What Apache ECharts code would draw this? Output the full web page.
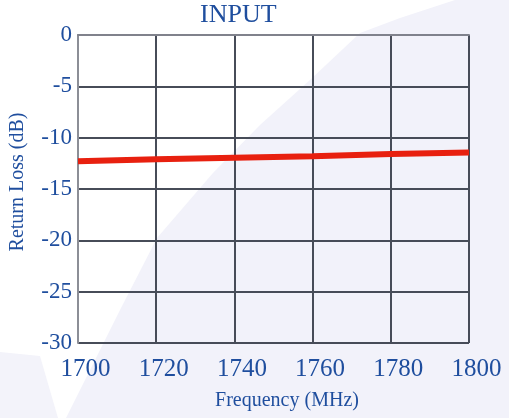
<!DOCTYPE html>
<html>
<head>
<meta charset="utf-8">
<script src="https://cdn.jsdelivr.net/npm/echarts@6/dist/echarts.min.js"></script>
<style>
  html, body { margin: 0; padding: 0; background: #ffffff; }
  #chart { width: 509px; height: 418px; }
</style>
</head>
<body>
<div id="chart"></div>
<script>
// data
var freqs = [1700, 1720, 1740, 1760, 1780, 1800];
var returnLoss = [-12.3, -12.1, -11.95, -11.8, -11.6, -11.45];
var yTicks = [0, -5, -10, -15, -20, -25, -30];

var blue = "#1f4e9e";
var serif = "Liberation Serif";

var myChart = echarts.init(document.getElementById("chart"));

var option = {
  backgroundColor: "#ffffff",
  animation: false,
  // faint lavender swoosh behind the plot
  graphic: [
    {
      type: "polygon",
      z: -10,
      silent: true,
      shape: {
        points: [
          [509, 0], [455, 0], [400, 18], [360, 33], [310, 80], [260, 125],
          [213, 173], [157, 238], [120, 310], [90, 370], [66, 418], [509, 418]
        ]
      },
      style: { fill: "#f2f2fa" }
    },
    {
      type: "polygon",
      z: -10,
      silent: true,
      shape: { points: [[0, 352], [40, 356], [58, 418], [0, 418]] },
      style: { fill: "#f3f3fa" }
    }
  ],
  title: {
    text: "INPUT",
    left: 200,
    top: 0,
    padding: [2, 0, 0, 0],
    textStyle: { fontFamily: serif, fontSize: 26, fontWeight: "normal", color: blue }
  },
  grid: { left: 77, right: 40, top: 35, bottom: 75 },
  xAxis: {
    type: "value",
    min: 1700,
    max: 1800,
    interval: 20,
    name: "Frequency (MHz)",
    nameLocation: "middle",
    nameGap: 48,
    nameTextStyle: { fontFamily: serif, fontSize: 20, color: blue, padding: [0, 0, 0, 27] },
    axisLine: { show: true, lineStyle: { color: "#80828c", width: 2 } },
    axisTick: { show: false },
    axisLabel: {
      fontFamily: serif, fontSize: 25, color: blue, margin: 14,
      padding: [0, 0, 0, 15],
      formatter: function (v) { return String(v); }
    },
    splitLine: { show: true, lineStyle: { color: "#474c58", width: 2 } }
  },
  yAxis: {
    type: "value",
    min: -30,
    max: 0,
    interval: 5,
    name: "Return Loss (dB)",
    nameLocation: "middle",
    nameGap: 50,
    nameTextStyle: { fontFamily: serif, fontSize: 20, color: blue, padding: [0, 0, 0, 14] },
    axisLine: { show: true, lineStyle: { color: "#8c8e96", width: 2 } },
    axisTick: { show: false },
    axisLabel: {
      fontFamily: serif, fontSize: 23, color: blue, margin: 6,
      formatter: function (v) { return yTicks.indexOf(v) >= 0 ? String(v) : ""; }
    },
    splitLine: { show: true, lineStyle: { color: "#474c58", width: 2 } }
  },
  series: [
    {
      name: "Return Loss",
      type: "line",
      data: freqs.map(function (f, i) { return [f, returnLoss[i]]; }),
      symbol: "none",
      smooth: false,
      lineStyle: { color: "#e8200f", width: 6 },
      z: 5
    }
  ]
};

myChart.setOption(option);
</script>
</body>
</html>
